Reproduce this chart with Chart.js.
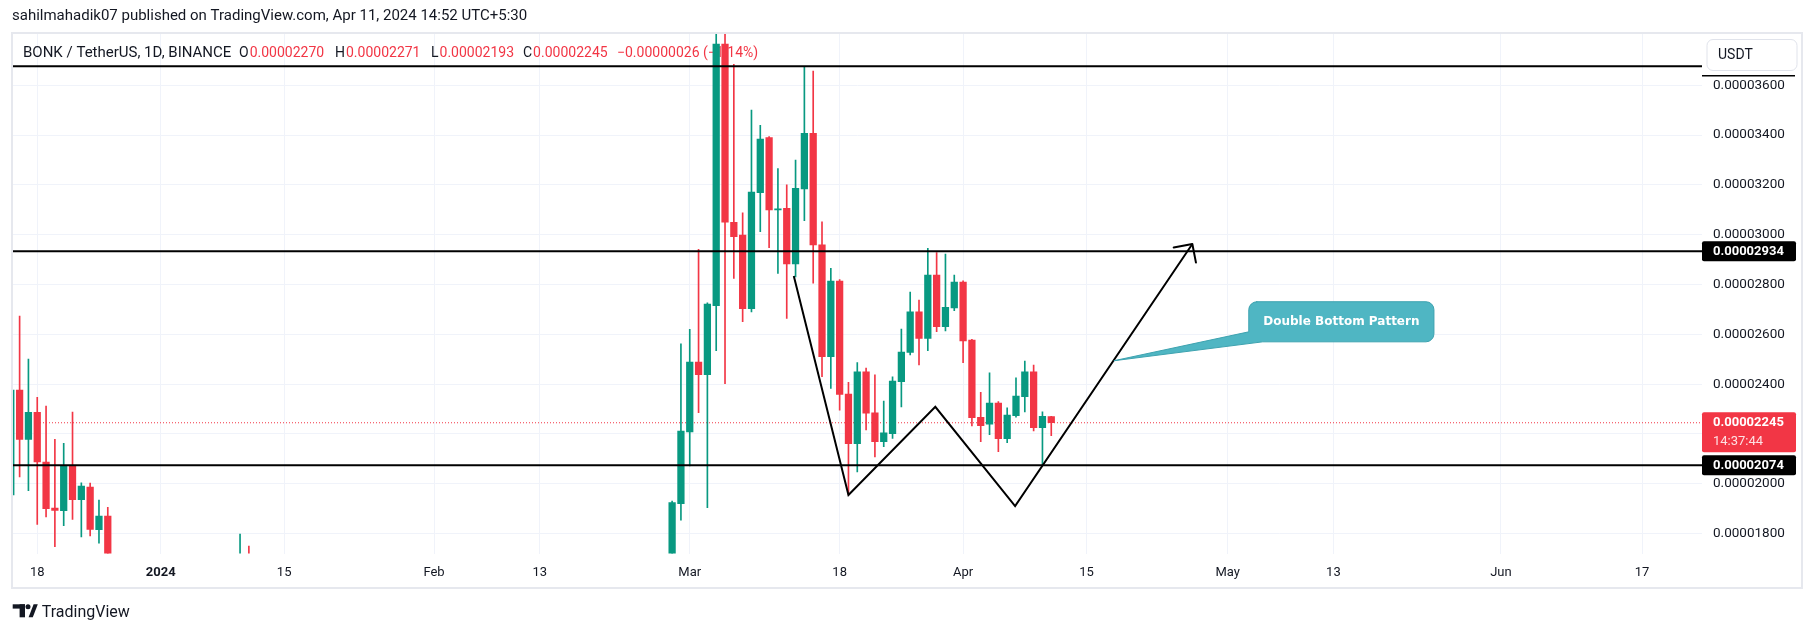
<!DOCTYPE html>
<html>
<head>
<meta charset="utf-8">
<script src="https://cdn.jsdelivr.net/npm/chart.js"></script>
<style>
  html, body { margin: 0; padding: 0; background: #fff; }
  canvas { display: block; }
</style>
</head>
<body>
<canvas id="chart" width="1815" height="633"></canvas>
<script>
// BONK / TetherUS, 1D, Binance - prices in units of 1e-8 USDT
const dates = [
  '2023-12-15', '2023-12-16', '2023-12-17', '2023-12-18', '2023-12-19', '2023-12-20',
  '2023-12-21', '2023-12-22', '2023-12-23', '2023-12-24', '2023-12-25', '2023-12-26',
  '2024-01-10', '2024-01-11',
  '2024-02-28', '2024-02-29',
  '2024-03-01', '2024-03-02', '2024-03-03', '2024-03-04', '2024-03-05', '2024-03-06',
  '2024-03-07', '2024-03-08', '2024-03-09', '2024-03-10', '2024-03-11', '2024-03-12',
  '2024-03-13', '2024-03-14', '2024-03-15', '2024-03-16', '2024-03-17', '2024-03-18',
  '2024-03-19', '2024-03-20', '2024-03-21', '2024-03-22', '2024-03-23', '2024-03-24',
  '2024-03-25', '2024-03-26', '2024-03-27', '2024-03-28', '2024-03-29', '2024-03-30',
  '2024-03-31', '2024-04-01', '2024-04-02', '2024-04-03', '2024-04-04', '2024-04-05',
  '2024-04-06', '2024-04-07', '2024-04-08', '2024-04-09', '2024-04-10', '2024-04-11'
];
const open = [
  1955, 2376, 2178, 2287, 2087, 1902, 1892, 2071, 1936, 1987, 1816, 1870,
  1560, 1690,
  1610, 1920,
  2208, 2489, 2438, 2715, 3766, 3050, 2999, 2703, 3169, 3390,
  3100, 3106, 2883, 3184, 3407, 2959, 2510, 2814, 2360, 2161,
  2449, 2285, 2169, 2201, 2410, 2527, 2690, 2584, 2838, 2631, 2706,
  2810, 2577, 2267, 2239, 2324, 2181, 2273, 2350, 2449, 2225, 2270
];
const high = [
  2420, 2673, 2501, 2347, 2312, 2178, 2162, 2288, 2004, 2003, 1935, 1905,
  1798, 1750,
  1930, 2562,
  2620, 2941, 2727, 3850, 3840, 3684, 3088, 3501, 3439, 3394,
  3266, 3200, 3300, 3672, 3657, 3052, 2865, 2820, 2407, 2487,
  2465, 2437, 2332, 2429, 2621, 2770, 2738, 2945, 2928, 2922, 2838,
  2815, 2580, 2367, 2445, 2330, 2305, 2425, 2493, 2477, 2289, 2271
];
const low = [
  1900, 2028, 1972, 1837, 1867, 1747, 1832, 1857, 1787, 1791, 1761, 1590,
  1530, 1580,
  1580, 1854,
  2072, 2285, 1904, 2534, 2402, 2825, 2651, 2690, 3012, 2948,
  2845, 2664, 2831, 3056, 2805, 2430, 2383, 2296, 1955, 2048,
  2216, 2108, 2149, 2182, 2309, 2517, 2477, 2534, 2611, 2614, 2695,
  2486, 2232, 2169, 2197, 2129, 2165, 2267, 2288, 2212, 2075, 2193
];
const close = [
  2376, 2178, 2287, 2088, 1900, 1893, 2071, 1936, 1991, 1817, 1870, 1640,
  1690, 1620,
  1924, 2212,
  2489, 2438, 2722, 3766, 3050, 2992, 2703, 3171, 3384, 3100,
  3103, 2883, 3186, 3407, 2959, 2510, 2814, 2359, 2161, 2449,
  2283, 2169, 2205, 2412, 2529, 2690, 2584, 2838, 2631, 2708, 2810,
  2574, 2265, 2233, 2324, 2181, 2276, 2352, 2449, 2225, 2271, 2245
];

// drawn horizontal levels
const levels = [3677, 2934, 2074];
const labelledLevels = [2934, 2074];

// double bottom drawing (x = days since 2023-12-18)
const patternX = [85.8, 92.0, 101.85, 110.9, 131.0];
const patternY = [2834, 1955, 2309, 1910, 2963];

// axis ticks
const xTickDates = ['2023-12-18', '2024-01-01', '2024-01-15', '2024-02-01', '2024-02-13', '2024-03-01',
  '2024-03-18', '2024-04-01', '2024-04-15', '2024-05-01', '2024-05-13', '2024-06-01', '2024-06-17'];
const xTickLabels = ['18', '2024', '15', 'Feb', '13', 'Mar', '18', 'Apr', '15', 'May', '13', 'Jun', '17'];
const yTicks = [1800, 2000, 2200, 2400, 2600, 2800, 3000, 3200, 3400, 3600];

const UNIT = 1e-8;
const xMin = -2.75, xMax = 188.8;
const yMin = 1720, yMax = 3806;

const UP = '#089981', DOWN = '#F23645', TEXT = '#131722';
const DAY0 = Date.UTC(2023, 11, 18);
function dayOf(s) {
  const p = s.split('-').map(Number);
  return (Date.UTC(p[0], p[1] - 1, p[2]) - DAY0) / 86400000;
}
const fmt = v => (v * UNIT).toFixed(8);

const xs = dates.map(dayOf);
const candleColors = open.map((o, i) => close[i] >= o ? UP : DOWN);
const last = close.length - 1;
const lastClose = close[last];

const datasets = [
  {
    type: 'bar', data: xs.map((x, i) => ({ x: x, y: [low[i], high[i]] })),
    backgroundColor: candleColors, barThickness: 1, grouped: false, clip: 0, order: 5
  },
  {
    type: 'bar', data: xs.map((x, i) => ({ x: x, y: [open[i], close[i]] })),
    backgroundColor: candleColors, barThickness: 6.6, minBarLength: 1, grouped: false, clip: 0, order: 4
  },
  {
    type: 'line', data: [{ x: xMin, y: lastClose }, { x: xMax, y: lastClose }],
    borderColor: DOWN, borderWidth: 1, borderDash: [1, 2], pointRadius: 0, order: 6
  }
];
levels.forEach(lv => datasets.push({
  type: 'line', data: [{ x: xMin, y: lv }, { x: xMax, y: lv }],
  borderColor: '#000', borderWidth: 2, pointRadius: 0, order: 1
}));
datasets.push({
  type: 'line', data: patternX.map((x, i) => ({ x: x, y: patternY[i] })),
  borderColor: '#000', borderWidth: 2, pointRadius: 0, tension: 0, order: 0
});

function roundRect(ctx, x, y, w, h, r) {
  ctx.beginPath();
  ctx.moveTo(x + r, y);
  ctx.arcTo(x + w, y, x + w, y + h, r);
  ctx.arcTo(x + w, y + h, x, y + h, r);
  ctx.arcTo(x, y + h, x, y, r);
  ctx.arcTo(x, y, x + w, y, r);
  ctx.closePath();
}

const extras = {
  id: 'extras',
  beforeDraw(chart) {
    const ctx = chart.ctx;
    ctx.save();
    ctx.fillStyle = '#fff';
    ctx.fillRect(0, 0, chart.width, chart.height);
    ctx.fillStyle = TEXT;
    ctx.font = '15px Roboto';
    ctx.textBaseline = 'middle';
    ctx.fillText('sahilmahadik07 published on TradingView.com, Apr 11, 2024 14:52 UTC+5:30', 12, 16);
    ctx.strokeStyle = '#e6e8ee';
    ctx.lineWidth = 2;
    ctx.strokeRect(12, 33, 1790, 555);
    ctx.restore();
  },
  beforeDatasetsDraw(chart) {
    // legend line sits under the candles
    const ctx = chart.ctx;
    ctx.save();
    ctx.textBaseline = 'middle';
    const y = 53;
    ctx.fillStyle = TEXT;
    ctx.font = '15px Roboto';
    ctx.fillText('BONK / TetherUS, 1D, BINANCE', 23, y);
    ctx.font = '14px Roboto';
    const parts = [['O', open[last], 239], ['H', high[last], 335], ['L', low[last], 431], ['C', close[last], 523]];
    parts.forEach(p => {
      ctx.fillStyle = TEXT;
      ctx.fillText(p[0], p[2], y);
      ctx.fillStyle = DOWN;
      ctx.fillText(fmt(p[1]), p[2] + ctx.measureText(p[0]).width + 1, y);
    });
    const chg = close[last] - close[last - 1];
    const pct = chg / close[last - 1] * 100;
    const sign = chg < 0 ? '\u2212' : '+';
    ctx.fillStyle = chg < 0 ? DOWN : UP;
    ctx.fillText(sign + fmt(Math.abs(chg)) + ' (' + sign + Math.abs(pct).toFixed(2) + '%)', 617, y);
    ctx.restore();
  },
  afterDatasetsDraw(chart) {
    const ctx = chart.ctx;
    const xS = chart.scales.x, yS = chart.scales.y;
    // arrow head at the end of the pattern line
    const pts = chart.getDatasetMeta(chart.data.datasets.length - 1).data;
    const a = pts[pts.length - 2], b = pts[pts.length - 1];
    const ang = Math.atan2(b.y - a.y, b.x - a.x);
    ctx.save();
    ctx.strokeStyle = '#000';
    ctx.lineWidth = 2;
    ctx.lineCap = 'round';
    ctx.beginPath();
    [Math.PI * 0.75, -Math.PI * 0.75].forEach(d => {
      ctx.moveTo(b.x, b.y);
      ctx.lineTo(b.x + 19 * Math.cos(ang + d), b.y + 19 * Math.sin(ang + d));
    });
    ctx.stroke();

    // callout
    const left = xS.getPixelForValue(137.4), right = xS.getPixelForValue(158.4);
    const top = yS.getPixelForValue(2731), bottom = yS.getPixelForValue(2570);
    const tipX = xS.getPixelForValue(122.1), tipY = yS.getPixelForValue(2494);
    const r = 8;
    ctx.beginPath();
    ctx.moveTo(left + r, top);
    ctx.arcTo(right, top, right, bottom, r);
    ctx.arcTo(right, bottom, left, bottom, r);
    ctx.lineTo(left + 14, bottom);
    ctx.lineTo(tipX, tipY);
    ctx.lineTo(left, bottom - 10);
    ctx.arcTo(left, top, right, top, r);
    ctx.closePath();
    ctx.fillStyle = '#4fb6c3';
    ctx.fill();
    ctx.strokeStyle = '#3ea3b0';
    ctx.lineWidth = 1;
    ctx.stroke();
    ctx.fillStyle = '#fff';
    ctx.font = 'bold 12px "DejaVu Sans"';
    ctx.textAlign = 'center';
    ctx.textBaseline = 'middle';
    ctx.fillText('Double Bottom Pattern', (left + right) / 2, (top + bottom) / 2);
    ctx.restore();
  },
  afterDraw(chart) {
    const ctx = chart.ctx;
    const yS = chart.scales.y;
    const sx = yS.left;
    ctx.save();
    ctx.textBaseline = 'middle';
    // level labels on the price scale
    labelledLevels.forEach(lv => {
      const y = yS.getPixelForValue(lv);
      ctx.fillStyle = '#000';
      roundRect(ctx, sx, y - 10, 94, 20, 2);
      ctx.fill();
      ctx.fillStyle = '#fff';
      ctx.font = 'bold 13px Roboto';
      ctx.fillText(fmt(lv), sx + 11, y + 0.5);
    });
    // last price label
    const yl = yS.getPixelForValue(lastClose);
    ctx.fillStyle = DOWN;
    roundRect(ctx, sx, yl - 10.5, 94, 40, 2);
    ctx.fill();
    ctx.fillStyle = '#fff';
    ctx.font = 'bold 13px Roboto';
    ctx.fillText(fmt(lastClose), sx + 11, yl);
    ctx.fillStyle = 'rgba(255,255,255,0.85)';
    ctx.font = '13px Roboto';
    ctx.fillText('14:37:44', sx + 11, yl + 19);
    // top level label hidden behind the currency button
    ctx.fillStyle = '#000';
    ctx.fillRect(sx, 75, 93, 1.5);
    // currency button
    ctx.fillStyle = '#fff';
    roundRect(ctx, 1707, 39.5, 90, 31, 6);
    ctx.fill();
    ctx.strokeStyle = '#e0e3eb';
    ctx.lineWidth = 1;
    ctx.stroke();
    ctx.fillStyle = TEXT;
    ctx.font = '14px Roboto';
    ctx.fillText('USDT', 1718, 55.5);
    // TradingView logo
    ctx.fillStyle = TEXT;
    ctx.fillRect(12.7, 604.3, 12.3, 4.3);
    ctx.fillRect(19.6, 604.3, 5.4, 13);
    ctx.beginPath();
    ctx.arc(28, 606.8, 2.5, 0, Math.PI * 2);
    ctx.fill();
    ctx.beginPath();
    ctx.moveTo(28.6, 617.3);
    ctx.lineTo(33.6, 604.3);
    ctx.lineTo(37.8, 604.3);
    ctx.lineTo(32.8, 617.3);
    ctx.closePath();
    ctx.fill();
    ctx.font = '16px Roboto';
    ctx.textBaseline = 'alphabetic';
    ctx.fillText('TradingView', 41.7, 617.3);
    ctx.restore();
  }
};

new Chart(document.getElementById('chart'), {
  type: 'bar',
  data: { datasets: datasets },
  options: {
    responsive: false,
    animation: false,
    layout: { padding: { left: 13, top: 34, right: 13, bottom: 44.5 } },
    plugins: { legend: { display: false }, tooltip: { enabled: false } },
    scales: {
      x: {
        type: 'linear', min: xMin, max: xMax, offset: false,
        grid: { color: '#f0f3fa', drawTicks: false, offset: false },
        border: { display: false },
        afterBuildTicks: s => { s.ticks = xTickDates.map(d => ({ value: dayOf(d) })); },
        afterFit: s => { s.height = 35; },
        ticks: {
          autoSkip: false, maxRotation: 0, padding: 11, color: TEXT,
          font: ctx => ({ family: 'Roboto', size: 13, weight: ctx.tick && ctx.tick.value === dayOf('2024-01-01') ? 'bold' : 'normal' }),
          callback: (v, i) => xTickLabels[i]
        }
      },
      y: {
        type: 'linear', position: 'right', min: yMin, max: yMax,
        grid: { color: '#f0f3fa', drawTicks: false },
        border: { display: false },
        afterBuildTicks: s => { s.ticks = yTicks.map(v => ({ value: v })); },
        afterFit: s => { s.width = 100; },
        ticks: {
          padding: 11, color: TEXT, font: { family: 'Roboto', size: 13.5 },
          // the last price label covers the tick next to it
          callback: v => Math.abs(v - lastClose) < 60 ? '' : fmt(v)
        }
      }
    }
  },
  plugins: [extras]
});
</script>
</body>
</html>
